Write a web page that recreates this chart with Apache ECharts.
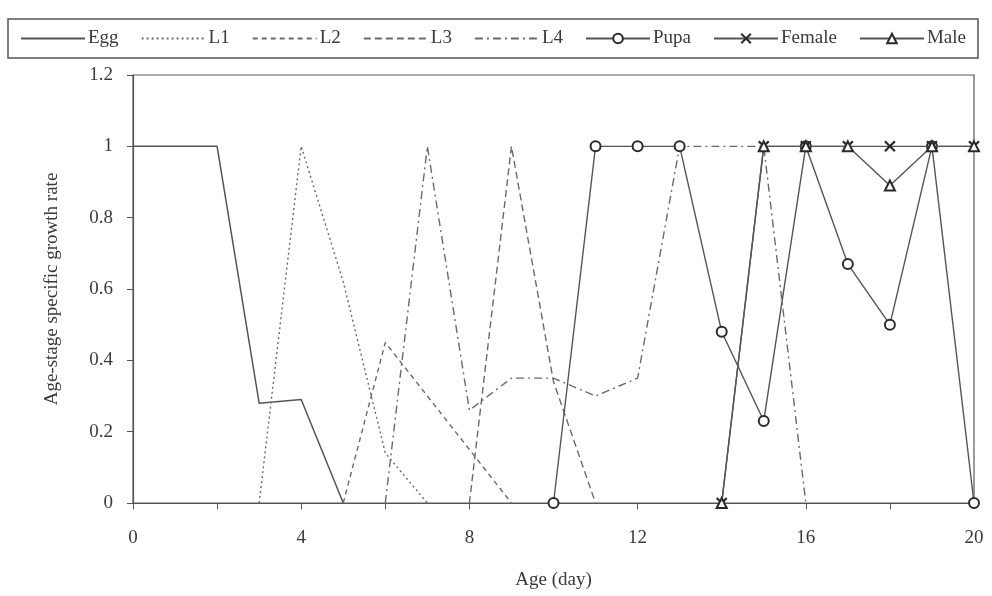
<!DOCTYPE html>
<html>
<head>
<meta charset="utf-8">
<script src="https://cdn.jsdelivr.net/npm/echarts@6/dist/echarts.min.js"></script>
<style>
  html, body { margin: 0; padding: 0; background: #fff; }
  #chart { width: 992px; height: 596px; }
</style>
</head>
<body>
<div id="chart"></div>
<script>
// Age in days along the x axis
const days = [0, 1, 2, 3, 4, 5, 6, 7, 8, 9, 10, 11, 12, 13, 14, 15, 16, 17, 18, 19, 20];

// Age-stage specific growth rate per stage (null = stage absent at that age)
const egg    = [1, 1, 1, 0.28, 0.29, 0, null, null, null, null, null, null, null, null, null, null, null, null, null, null, null];
const l1     = [null, null, null, 0, 1, 0.62, 0.14, 0, null, null, null, null, null, null, null, null, null, null, null, null, null];
const l2     = [null, null, null, null, null, 0, 0.45, 0.3, 0.15, 0, null, null, null, null, null, null, null, null, null, null, null];
const l3     = [null, null, null, null, null, null, null, null, 0, 1, 0.34, 0, null, null, null, null, null, null, null, null, null];
const l4     = [null, null, null, null, null, null, 0, 1, 0.26, 0.35, 0.35, 0.3, 0.35, 1, 1, 1, 0, null, null, null, null];
const pupa   = [null, null, null, null, null, null, null, null, null, null, 0, 1, 1, 1, 0.48, 0.23, 1, 0.67, 0.5, 1, 0];
const female = [null, null, null, null, null, null, null, null, null, null, null, null, null, null, 0, 1, 1, 1, 1, 1, 1];
const male   = [null, null, null, null, null, null, null, null, null, null, null, null, null, null, 0, 1, 1, 1, 0.89, 1, 1];

const stageNames = ['Egg', 'L1', 'L2', 'L3', 'L4', 'Pupa', 'Female', 'Male'];
const markedStages = ['Pupa', 'Female', 'Male'];

const FONT = 'Liberation Serif';
const INK = '#3a3a3a';
const LINE = '#6a6a6a';

const pairs = vals => days.map((d, i) => [d, vals[i]]);

function lineSeries(name, vals, lineType, extra) {
  return Object.assign({
    name: name,
    type: 'line',
    data: pairs(vals),
    connectNulls: false,
    symbol: 'none',
    showSymbol: false,
    lineStyle: { color: LINE, width: 1.4, type: lineType },
    itemStyle: { color: LINE },
    emphasis: { disabled: true },
    animation: false
  }, extra || {});
}

const crossPath = 'path://M0,0L10,10M10,0L0,10';

// Legend entries: plain line keys for the larval stages, marker keys for the rest
const legendData = stageNames.map(n => markedStages.includes(n)
  ? { name: n }
  : { name: n, itemStyle: { color: 'rgba(0,0,0,0)', borderColor: 'rgba(0,0,0,0)', borderWidth: 0 } });

const chart = echarts.init(document.getElementById('chart'), null, { renderer: 'canvas' });

chart.setOption({
  backgroundColor: '#ffffff',
  textStyle: { fontFamily: FONT, color: INK },
  legend: {
    left: 8,
    top: 19,
    width: 952,
    padding: [10, 12, 10, 12],
    itemWidth: 64,
    itemHeight: 12,
    itemGap: 22,
    borderColor: '#555',
    borderWidth: 1.5,
    textStyle: { fontFamily: FONT, fontSize: 19, color: INK, padding: [0, 0, 0, -2] },
    data: legendData
  },
  grid: {
    left: 133,
    right: 18,
    top: 75,
    bottom: 93,
    show: true,
    borderColor: '#5a5a5a',
    borderWidth: 1.2,
    containLabel: false
  },
  xAxis: {
    type: 'value',
    min: 0,
    max: 20,
    interval: 2,
    name: 'Age (day)',
    nameLocation: 'middle',
    nameGap: 68,
    nameTextStyle: { fontFamily: FONT, fontSize: 19, color: INK },
    axisLine: { lineStyle: { color: '#555', width: 1.2 } },
    axisTick: { show: true, inside: false, length: 6, lineStyle: { color: '#555' } },
    axisLabel: {
      fontFamily: FONT, fontSize: 19, color: INK, margin: 26,
      formatter: v => (v % 4 === 0 ? String(v) : '')
    },
    splitLine: { show: false }
  },
  yAxis: {
    type: 'value',
    min: 0,
    max: 1.2,
    interval: 0.2,
    name: 'Age-stage specific growth rate',
    nameLocation: 'middle',
    nameGap: 71,
    nameTextStyle: { fontFamily: FONT, fontSize: 19, color: INK },
    axisLine: { show: true, lineStyle: { color: '#555', width: 1.2 } },
    axisTick: { show: true, inside: false, length: 6, lineStyle: { color: '#555' } },
    axisLabel: {
      fontFamily: FONT, fontSize: 19, color: INK, margin: 20,
      formatter: v => String(Math.round(v * 10) / 10)
    },
    splitLine: { show: false }
  },
  series: [
    lineSeries('Egg', egg, 'solid', { lineStyle: { color: '#555', width: 1.5, type: 'solid' } }),
    lineSeries('L1', l1, [2, 3]),
    lineSeries('L2', l2, [5, 4]),
    lineSeries('L3', l3, [7, 4]),
    lineSeries('L4', l4, [8, 4, 2, 4]),
    lineSeries('Pupa', pupa, 'solid', {
      symbol: 'circle', showSymbol: true, symbolSize: 10,
      itemStyle: { color: '#fff', borderColor: '#2a2a2a', borderWidth: 2 },
      lineStyle: { color: '#555', width: 1.4, type: 'solid' },
      z: 4
    }),
    lineSeries('Female', female, 'solid', {
      symbol: crossPath, showSymbol: true, symbolSize: 10,
      itemStyle: { color: 'none', borderColor: '#2a2a2a', borderWidth: 2.2 },
      lineStyle: { color: '#555', width: 1.4, type: 'solid' },
      z: 5
    }),
    lineSeries('Male', male, 'solid', {
      symbol: 'triangle', showSymbol: true, symbolSize: 10,
      itemStyle: { color: '#fff', borderColor: '#2a2a2a', borderWidth: 2 },
      lineStyle: { color: '#555', width: 1.4, type: 'solid' },
      z: 6
    })
  ]
});
</script>
</body>
</html>
